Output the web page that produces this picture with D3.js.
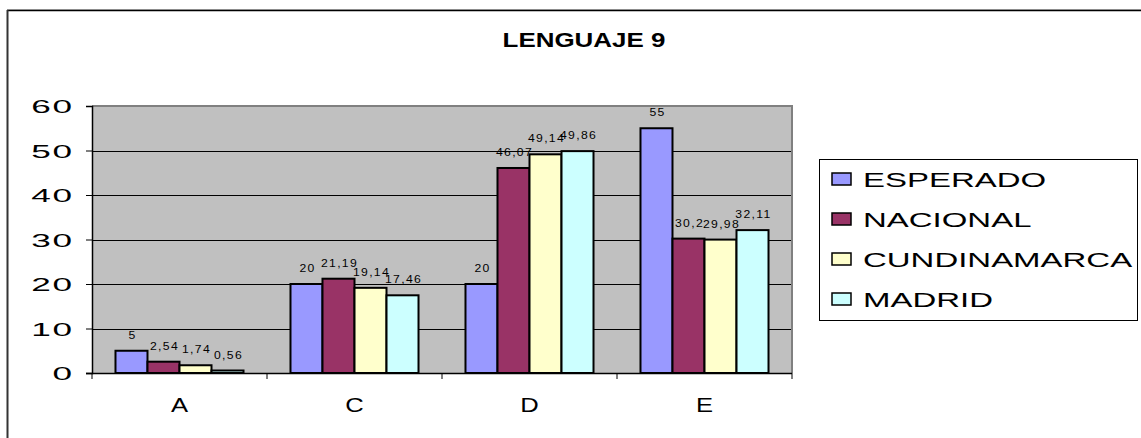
<!DOCTYPE html>
<html><head><meta charset="utf-8">
<script src="https://cdn.jsdelivr.net/npm/d3@7"></script>
<style>html,body{margin:0;padding:0;background:#fff;overflow:hidden}</style>
</head><body>
<svg id="c" width="1141" height="438"></svg>
<script>
const title = "LENGUAJE 9";
const categories = ["A", "C", "D", "E"];
const seriesNames = ["ESPERADO", "NACIONAL", "CUNDINAMARCA", "MADRID"];
const esperado = [5, 20, 20, 55];
const nacional = [2.54, 21.19, 46.07, 30.2];
const cundinamarca = [1.74, 19.14, 49.14, 29.98];
const madrid = [0.56, 17.46, 49.86, 32.11];
const yTicks = [0, 10, 20, 30, 40, 50, 60];
const colors = ["#9999FF", "#993366", "#FFFFCC", "#CCFFFF"];

(function () {
const seriesValues = [esperado, nacional, cundinamarca, madrid];
const svg = d3.select("#c");
const font = "'Liberation Sans', Arial, sans-serif";

function stext(g, x, y, txt, size, sx, anchor, weight, ls) {
  const t = g.append("text")
    .attr("transform", `translate(${x},${y}) scale(${sx},1)`)
    .attr("text-anchor", anchor || "middle")
    .attr("font-family", font)
    .attr("font-size", size)
    .attr("font-weight", weight || "normal")
    .attr("fill", "#000")
    .text(txt);
  if (ls) t.attr("letter-spacing", ls);
  return t;
}

// outer frame
svg.append("line").attr("x1", 7).attr("x2", 1141).attr("y1", 9.5).attr("y2", 9.5).attr("stroke", "#bbb").attr("stroke-width", 1);
svg.append("line").attr("x1", 7).attr("x2", 1141).attr("y1", 10.5).attr("y2", 10.5).attr("stroke", "#000").attr("stroke-width", 1.5);
svg.append("line").attr("x1", 7.5).attr("x2", 7.5).attr("y1", 10).attr("y2", 438).attr("stroke", "#333").attr("stroke-width", 2);

const pLeft = 92, pRight = 792, pTop = 106, pBottom = 373;
const x = d3.scaleBand().domain(categories).range([pLeft, pRight]).paddingInner(0).paddingOuter(0);
const x1 = d3.scaleBand().domain(seriesNames).range([0, x.bandwidth()]).paddingInner(0).paddingOuter(0.734);
const y = d3.scaleLinear().domain([0, 60]).range([pBottom, pTop]);

// plot background
svg.append("rect").attr("x", pLeft).attr("y", pTop).attr("width", pRight - pLeft).attr("height", pBottom - pTop).attr("fill", "#C0C0C0");

// gridlines
svg.append("g").selectAll("line").data(yTicks.filter(t => t > 0 && t < 60)).join("line")
  .attr("x1", pLeft).attr("x2", pRight)
  .attr("y1", d => Math.round(y(d)) + 0.5).attr("y2", d => Math.round(y(d)) + 0.5)
  .attr("stroke", "#000").attr("stroke-width", 1);

// plot border top/right
svg.append("path").attr("d", `M${pLeft},${pTop}H${pRight}V${pBottom}`).attr("fill", "none").attr("stroke", "#808080").attr("stroke-width", 2);

// bars
const groups = svg.append("g").selectAll("g").data(categories).join("g")
  .attr("transform", d => `translate(${x(d)},0)`);
groups.each(function (cat, ci) {
  const g = d3.select(this);
  seriesNames.forEach((s, si) => {
    const v = seriesValues[si][ci];
    g.append("rect")
      .attr("x", x1(s)).attr("width", x1.bandwidth())
      .attr("y", y(v)).attr("height", y(0) - y(v))
      .attr("fill", colors[si]).attr("stroke", "#000").attr("stroke-width", 2);
  });
});

// axes
const yAxis = svg.append("g").attr("transform", `translate(${pLeft},0)`)
  .call(d3.axisLeft(y).tickValues(yTicks).tickSize(6).tickFormat(""));
yAxis.select(".domain").attr("stroke", "#000").attr("stroke-width", 1.5);
yAxis.selectAll(".tick line").attr("stroke", "#000");
const xAxis = svg.append("g").attr("transform", `translate(0,${pBottom})`)
  .call(d3.axisBottom(x).tickSize(0).tickFormat(""));
xAxis.select(".domain").attr("d", `M${pLeft - 6},0.5H${pRight}`).attr("stroke", "#000").attr("stroke-width", 1.5);
svg.append("g").selectAll("line").data(categories.map(c => x(c)).concat([pRight])).join("line")
  .attr("x1", d => d).attr("x2", d => d).attr("y1", pBottom).attr("y2", pBottom + 6)
  .attr("stroke", "#000");

// y tick labels
const gyl = svg.append("g");
yTicks.forEach(t => stext(gyl, 72 + 2, y(t) + 7, String(t), 19, 1.85, "end", "normal", 1));

// category labels
const gxl = svg.append("g");
categories.forEach(c => stext(gxl, x(c) + x.bandwidth() / 2, 412, c, 21, 1.22, "middle"));

// data labels
const gdl = svg.append("g");
categories.forEach((c, ci) => {
  seriesNames.forEach((s, si) => {
    const v = seriesValues[si][ci];
    stext(gdl, x(c) + x1(s) + x1.bandwidth() / 2 + 1, y(v) - 12, String(v).replace(".", ","), 10, 1.22, "middle", "normal", 1.1);
  });
});

// title
stext(svg, 584, 47, title, 19.5, 1.33, "middle", "bold");

// legend
const lg = svg.append("g");
lg.append("rect").attr("x", 819.5).attr("y", 159.5).attr("width", 318).attr("height", 161)
  .attr("fill", "#fff").attr("stroke", "#000").attr("stroke-width", 1);
seriesNames.forEach((s, i) => {
  const cy = 179 + i * 40;
  lg.append("rect").attr("x", 832).attr("y", cy - 6).attr("width", 19).attr("height", 12)
    .attr("fill", colors[i]).attr("stroke", "#000").attr("stroke-width", 1.5);
  stext(lg, 863, cy + 8, s, 21, 1.57, "start");
});
})();
</script>
</body></html>
